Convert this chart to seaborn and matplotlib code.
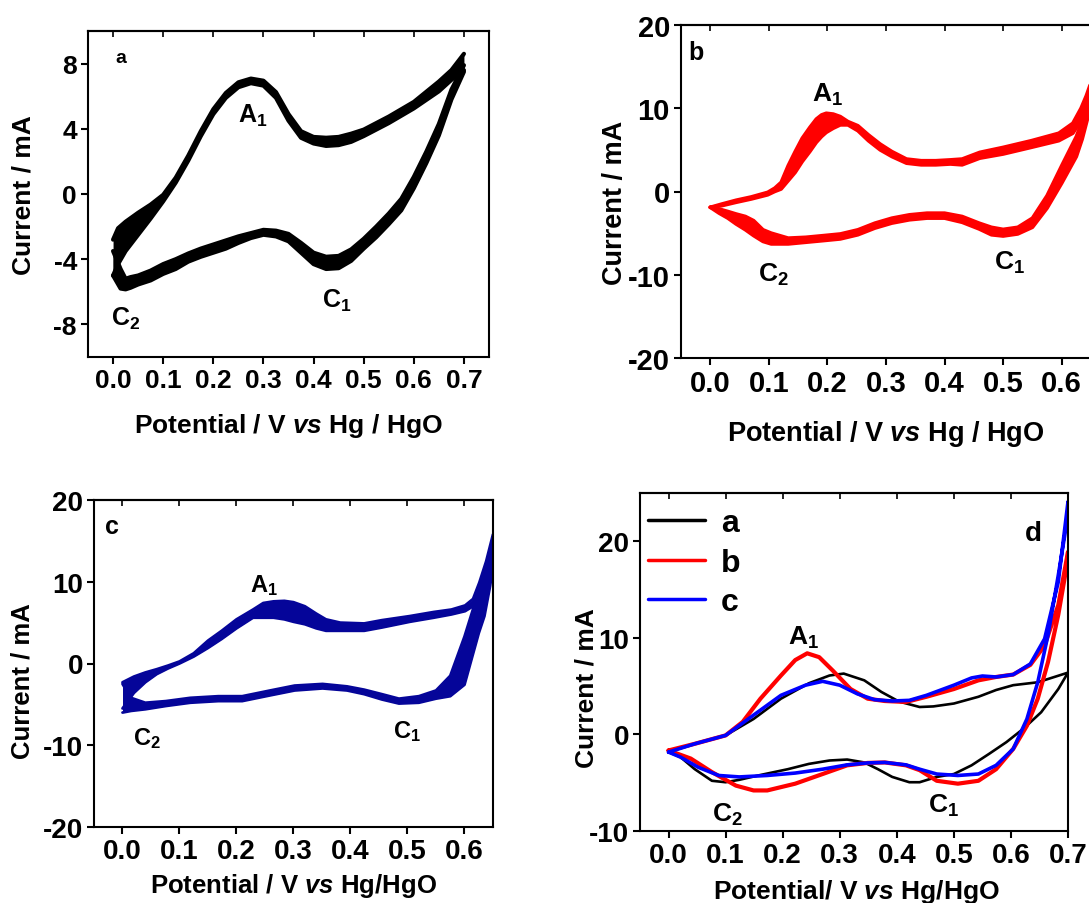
import matplotlib
matplotlib.use("Agg")
import matplotlib.pyplot as plt
import seaborn as sns
from matplotlib.lines import Line2D

# ---------------- panel a (black, repeated cycles -> band) ----------------
a_fwd_E = [0.0, 0.01, 0.025, 0.05, 0.075, 0.1, 0.125, 0.15, 0.175, 0.2, 0.225, 0.25, 0.275, 0.3,
           0.325, 0.35, 0.375, 0.4, 0.425, 0.45, 0.475, 0.5, 0.55, 0.6, 0.65, 0.675, 0.7]
a_fwd_hi = [-2.8, -2.1, -1.7, -1.15, -0.65, -0.05, 1.0, 2.35, 3.85, 5.2, 6.2, 6.85, 7.08, 6.95,
            6.25, 4.9, 3.85, 3.5, 3.45, 3.5, 3.7, 3.95, 4.75, 5.65, 6.9, 7.6, 8.6]
a_fwd_lo = [-5.0, -4.3, -3.5, -2.5, -1.5, -0.45, 0.7, 2.05, 3.55, 4.9, 5.9, 6.55, 6.8, 6.65,
            5.9, 4.5, 3.45, 3.1, 2.95, 3.0, 3.2, 3.55, 4.35, 5.25, 6.3, 7.0, 7.6]
a_rev_E = [0.7, 0.675, 0.65, 0.625, 0.6, 0.575, 0.55, 0.525, 0.5, 0.475, 0.45, 0.425, 0.4, 0.375,
           0.35, 0.325, 0.3, 0.275, 0.25, 0.225, 0.2, 0.175, 0.15, 0.125, 0.1, 0.075, 0.05, 0.035,
           0.025, 0.015, 0.0]
a_rev_hi = [7.9, 6.4, 4.3, 2.6, 1.05, -0.3, -1.2, -2.0, -2.75, -3.4, -3.8, -3.85, -3.6, -3.0,
            -2.45, -2.25, -2.2, -2.4, -2.6, -2.85, -3.1, -3.35, -3.65, -4.0, -4.3, -4.7, -5.0, -5.1,
            -5.2, -4.6, -3.5]
a_rev_lo = [7.5, 5.8, 3.6, 1.9, 0.35, -1.0, -1.85, -2.65, -3.35, -4.1, -4.55, -4.6, -4.3, -3.6,
            -2.9, -2.6, -2.5, -2.7, -3.0, -3.35, -3.6, -3.85, -4.15, -4.6, -4.9, -5.3, -5.55, -5.75,
            -5.85, -5.8, -5.0]

# ---------------- panel b (red) ----------------
b_fwd_E = [0.0, 0.02, 0.044, 0.07, 0.098, 0.11, 0.121, 0.133, 0.145, 0.157, 0.17, 0.181, 0.19,
           0.198, 0.21, 0.222, 0.235, 0.252, 0.27, 0.29, 0.31, 0.335, 0.36, 0.385, 0.41, 0.43,
           0.46, 0.5, 0.548, 0.595, 0.619, 0.633, 0.642, 0.65]
b_fwd_hi = [-1.9, -1.5, -1.05, -0.65, -0.1, 0.4, 1.1, 3.1, 4.8, 6.4, 7.7, 8.7, 9.2, 9.4, 9.3,
            9.0, 8.4, 7.9, 6.8, 5.7, 4.8, 3.9, 3.7, 3.7, 3.8, 3.9, 4.7, 5.3, 6.1, 7.0, 8.2, 10.0,
            11.5, 13.1]
b_fwd_lo = [-1.9, -1.7, -1.3, -0.9, -0.4, 0.0, 0.3, 1.3, 2.3, 3.6, 4.8, 5.9, 6.6, 7.1, 7.6, 8.0,
            8.0, 7.3, 6.1, 5.0, 4.2, 3.4, 3.2, 3.2, 3.3, 3.2, 4.0, 4.5, 5.3, 6.1, 7.0, 8.5, 10.0,
            12.0]
b_rev_E = [0.65, 0.645, 0.635, 0.625, 0.6, 0.575, 0.55, 0.525, 0.5, 0.48, 0.459, 0.43, 0.4, 0.37,
           0.34, 0.31, 0.281, 0.252, 0.222, 0.193, 0.163, 0.133, 0.104, 0.09, 0.074, 0.06, 0.044,
           0.03, 0.015, 0.0]
b_rev_hi = [12.0, 10.5, 8.5, 6.6, 3.1, -0.5, -3.2, -4.3, -4.55, -4.3, -3.8, -3.0, -2.6, -2.6,
            -2.8, -3.2, -3.8, -4.6, -5.1, -5.3, -5.5, -5.6, -5.0, -4.6, -3.5, -3.0, -2.7, -2.4,
            -2.1, -1.9]
b_rev_lo = [12.0, 9.0, 6.3, 4.2, 1.0, -2.0, -4.3, -5.1, -5.35, -5.2, -4.5, -3.7, -3.2, -3.2,
            -3.4, -3.8, -4.4, -5.2, -5.7, -5.9, -6.1, -6.3, -6.3, -6.0, -5.3, -4.6, -3.9, -3.2,
            -2.6, -1.9]

# ---------------- panel c (navy) ----------------
c_fwd_E = [0.0, 0.02, 0.04, 0.06, 0.08, 0.1, 0.125, 0.15, 0.174, 0.2, 0.229, 0.247, 0.265, 0.284,
           0.3, 0.32, 0.34, 0.357, 0.382, 0.424, 0.455, 0.504, 0.546, 0.577, 0.601, 0.615, 0.626,
           0.638, 0.65]
c_fwd_hi = [-2.3, -1.6, -1.1, -0.7, -0.25, 0.25, 1.25, 2.8, 4.0, 5.4, 6.6, 7.4, 7.6, 7.66, 7.5,
            7.0, 6.1, 5.4, 5.0, 4.9, 5.3, 5.8, 6.3, 6.6, 7.1, 7.9, 9.9, 12.5, 15.8]
c_fwd_lo = [-5.5, -3.6, -2.3, -1.3, -0.6, 0.0, 0.85, 1.9, 3.0, 4.3, 5.6, 5.6, 5.6, 5.4, 5.1, 4.8,
            4.3, 4.0, 4.0, 4.0, 4.4, 5.1, 5.6, 6.0, 6.4, 7.0, 8.3, 10.0, 12.0]
c_rev_E = [0.65, 0.645, 0.635, 0.625, 0.6, 0.575, 0.55, 0.52, 0.485, 0.455, 0.424, 0.394, 0.351,
           0.302, 0.259, 0.21, 0.168, 0.119, 0.076, 0.04, 0.015, 0.0]
c_rev_hi = [15.5, 12.5, 10.8, 8.9, 3.3, -1.5, -3.3, -4.0, -4.3, -3.75, -3.2, -2.8, -2.5, -2.7,
            -3.3, -4.0, -4.0, -4.2, -4.6, -4.8, -4.2, -2.5]
c_rev_lo = [12.0, 9.5, 5.8, 3.7, -2.6, -4.0, -4.3, -4.8, -4.9, -4.4, -3.75, -3.3, -3.05, -3.3,
            -3.9, -4.6, -4.6, -4.8, -5.2, -5.6, -5.8, -6.0]

# ---------------- panel d (comparison of a, b, c) ----------------
d_a_E = [0.0, 0.046, 0.1, 0.149, 0.197, 0.246, 0.282, 0.307, 0.343, 0.373, 0.404, 0.44, 0.464,
         0.5, 0.543, 0.574, 0.604, 0.647, 0.7, 0.683, 0.653, 0.622, 0.592, 0.562, 0.531, 0.5,
         0.47, 0.44, 0.422, 0.392, 0.367, 0.343, 0.313, 0.282, 0.246, 0.209, 0.161, 0.124, 0.1,
         0.076, 0.046, 0.021, 0.0]
d_a_I = [-1.83, -0.97, -0.1, 1.6, 3.7, 5.3, 6.1, 6.3, 5.6, 4.4, 3.4, 2.84, 2.9, 3.2, 3.9, 4.6,
         5.1, 5.4, 6.4, 4.7, 2.3, 0.6, -0.8, -2.0, -3.2, -4.1, -4.4, -4.95, -4.95, -4.4, -3.6,
         -2.9, -2.6, -2.7, -3.05, -3.6, -4.2, -4.7, -4.95, -4.8, -3.6, -2.35, -1.83]
d_b_E = [0.0, 0.046, 0.1, 0.13, 0.161, 0.197, 0.222, 0.243, 0.264, 0.288, 0.319, 0.349, 0.379,
         0.416, 0.452, 0.5, 0.543, 0.574, 0.604, 0.634, 0.659, 0.683, 0.7, 0.7, 0.683, 0.665,
         0.647, 0.628, 0.604, 0.574, 0.543, 0.507, 0.47, 0.44, 0.416, 0.379, 0.349, 0.313, 0.27,
         0.222, 0.173, 0.149, 0.118, 0.076, 0.039, 0.0]
d_b_I = [-1.66, -0.97, -0.1, 1.3, 3.7, 6.1, 7.7, 8.4, 8.0, 6.6, 4.7, 3.7, 3.46, 3.36, 3.9, 4.7,
         5.6, 5.95, 6.2, 7.2, 9.2, 13.4, 18.9, 18.2, 12.4, 7.5, 3.7, 0.9, -1.5, -3.6, -4.8, -5.1,
         -4.8, -3.7, -3.2, -2.9, -2.95, -3.2, -4.1, -5.1, -5.8, -5.8, -5.3, -3.9, -2.5, -1.66]
d_c_E = [0.0, 0.046, 0.1, 0.149, 0.197, 0.24, 0.27, 0.3, 0.331, 0.361, 0.392, 0.422, 0.452, 0.5,
         0.531, 0.55, 0.574, 0.604, 0.634, 0.659, 0.683, 0.7, 0.7, 0.683, 0.665, 0.647, 0.628,
         0.604, 0.574, 0.543, 0.507, 0.47, 0.44, 0.416, 0.379, 0.349, 0.313, 0.27, 0.222, 0.173,
         0.124, 0.088, 0.052, 0.021, 0.0]
d_c_I = [-1.83, -0.97, -0.1, 2.0, 4.05, 5.1, 5.5, 5.1, 4.2, 3.6, 3.46, 3.53, 4.05, 5.1, 5.85,
         6.05, 5.95, 6.2, 7.3, 9.9, 15.8, 24.1, 22.7, 16.5, 10.3, 5.4, 1.6, -1.5, -3.2, -4.1,
         -4.25, -4.1, -3.6, -3.15, -2.9, -2.95, -3.15, -3.6, -4.0, -4.25, -4.4, -4.25, -3.4,
         -2.35, -1.83]
legend_labels = ["a", "b", "c"]

# ---------------- style ----------------
sns.set_theme(style="ticks")
plt.rcParams.update({
    "font.family": ["Liberation Sans", "DejaVu Sans"],
    "font.weight": "bold",
    "axes.labelweight": "bold",
    "axes.unicode_minus": False,
    "mathtext.fontset": "custom",
    "mathtext.rm": "Liberation Sans:bold",
    "mathtext.bf": "Liberation Sans:bold",
    "mathtext.it": "Liberation Sans:italic:bold",
    "axes.linewidth": 1.5,
    "axes.edgecolor": "black",
    "xtick.color": "black",
    "ytick.color": "black",
    "text.color": "black",
    "axes.labelcolor": "black",
})

W, H = 1089, 904
fig = plt.figure(figsize=(W / 100, H / 100), dpi=100)


def make_ax(x0, y0, x1, y1):
    return fig.add_axes([x0 / W, 1 - y1 / H, (x1 - x0) / W, (y1 - y0) / H])


def style(ax, xlim, ylim, xticks, yticks, tfs, xl, xfs, yfs, xlab_pos, ylab_pos):
    ax.set_xlim(*xlim)
    ax.set_ylim(*ylim)
    ax.set_xticks(xticks)
    ax.set_xticklabels([f"{v:.1f}" for v in xticks], fontsize=tfs, fontweight="bold")
    ax.set_yticks(yticks)
    ax.set_yticklabels([f"{v:d}" for v in yticks], fontsize=tfs, fontweight="bold")
    ax.tick_params(direction="out", length=5, width=1.5, pad=3)
    ax.set_xlabel(xl, fontsize=xfs, fontweight="bold")
    ax.set_ylabel("Current / mA", fontsize=yfs, fontweight="bold")
    ax.xaxis.set_label_coords(*xlab_pos)
    ax.yaxis.set_label_coords(*ylab_pos)
    sec = ax.secondary_xaxis("top")
    sec.set_xticks(xticks)
    sec.set_xticklabels([])
    sec.tick_params(direction="in", length=4, width=1.2)
    for s in ax.spines.values():
        s.set_visible(True)
        s.set_linewidth(1.5)


def band(ax, E, hi, lo, color, lw):
    ax.fill_between(E, lo, hi, color=color, linewidth=0)
    sns.lineplot(x=E, y=hi, sort=False, estimator=None, color=color, lw=lw, ax=ax)
    sns.lineplot(x=E, y=lo, sort=False, estimator=None, color=color, lw=lw, ax=ax)


def sublabel(ax, x, y, base, sub, fs):
    ax.text(x, y, r"$\mathbf{%s}_{\mathbf{%s}}$" % (base, sub), fontsize=fs, ha="left",
            va="baseline", color="black")


xt7 = [0.0, 0.1, 0.2, 0.3, 0.4, 0.5, 0.6, 0.7]
xt6 = [0.0, 0.1, 0.2, 0.3, 0.4, 0.5, 0.6]
lab_sp = "Potential / V $\\mathit{vs}$ Hg / HgO"

# panel a
ax_a = make_ax(88, 32, 489, 358)
band(ax_a, a_fwd_E, a_fwd_hi, a_fwd_lo, "black", 3.0)
band(ax_a, a_rev_E, a_rev_hi, a_rev_lo, "black", 3.0)
style(ax_a, (-0.05, 0.75), (-10, 10), xt7, [-8, -4, 0, 4, 8], 19, lab_sp, 19, 19,
      (0.5, -0.166), (-0.132, 0.5))
ax_a.text(0.016, 8.4, "a", fontsize=14, fontweight="bold", ha="center", va="center")
sublabel(ax_a, 0.25, 4.4, "A", "1", 18)
sublabel(ax_a, 0.416, -6.95, "C", "1", 18)
sublabel(ax_a, -0.004, -8.0, "C", "2", 18)

# panel b
ax_b = make_ax(681, 26, 1091, 359)
band(ax_b, b_fwd_E, b_fwd_hi, b_fwd_lo, "#ff0000", 2.6)
band(ax_b, b_rev_E, b_rev_hi, b_rev_lo, "#ff0000", 2.6)
style(ax_b, (-0.05, 0.65), (-20, 20), xt6, [-20, -10, 0, 10, 20], 21, lab_sp, 19.5, 19.5,
      (0.5, -0.18), (-0.129, 0.47))
ax_b.text(-0.024, 16.8, "b", fontsize=18, fontweight="bold", ha="center", va="center")
sublabel(ax_b, 0.174, 10.9, "A", "1", 19)
sublabel(ax_b, 0.081, -10.75, "C", "2", 19)
sublabel(ax_b, 0.485, -9.3, "C", "1", 19)

# panel c
ax_c = make_ax(94, 501, 493, 828)
band(ax_c, c_fwd_E, c_fwd_hi, c_fwd_lo, "#050599", 2.0)
band(ax_c, c_rev_E, c_rev_hi, c_rev_lo, "#050599", 2.0)
style(ax_c, (-0.05, 0.65), (-20, 20), xt6, [-20, -10, 0, 10, 20], 20,
      "Potential / V $\\mathit{vs}$ Hg/HgO", 18.5, 18.5, (0.5, -0.135), (-0.148, 0.45))
ax_c.text(-0.018, 16.8, "c", fontsize=18, fontweight="bold", ha="center", va="center")
sublabel(ax_c, 0.223, 8.9, "A", "1", 17)
sublabel(ax_c, 0.019, -9.85, "C", "2", 17)
sublabel(ax_c, 0.475, -9.0, "C", "1", 17)

# panel d
ax_d = make_ax(640, 494, 1068, 832)
sns.lineplot(x=d_a_E, y=d_a_I, sort=False, estimator=None, color="black", lw=1.9, ax=ax_d)
sns.lineplot(x=d_b_E, y=d_b_I, sort=False, estimator=None, color="#ff0000", lw=3.0, ax=ax_d)
sns.lineplot(x=d_c_E, y=d_c_I, sort=False, estimator=None, color="#0000ff", lw=2.6, ax=ax_d)
style(ax_d, (-0.05, 0.7), (-10, 25), xt7, [-10, 0, 10, 20], 20,
      "Potential/ V $\\mathit{vs}$ Hg/HgO", 19, 19, (0.505, -0.136), (-0.096, 0.426))
ax_d.text(0.64, 20.85, "d", fontsize=20, fontweight="bold", ha="center", va="center")
sublabel(ax_d, 0.21, 9.4, "A", "1", 19)
sublabel(ax_d, 0.077, -8.9, "C", "2", 19)
sublabel(ax_d, 0.455, -8.0, "C", "1", 19)
handles = [Line2D([0], [0], color=c, lw=2.5) for c in ["black", "#ff0000", "#0000ff"]]
ax_d.legend(handles, legend_labels, loc="upper left", bbox_to_anchor=(0.018, 0.955),
            frameon=False, prop={"size": 23, "weight": "bold"}, handlelength=1.8,
            handletextpad=0.5, labelspacing=0.3, borderaxespad=0, borderpad=0)

fig.savefig("out.png", dpi=100)
